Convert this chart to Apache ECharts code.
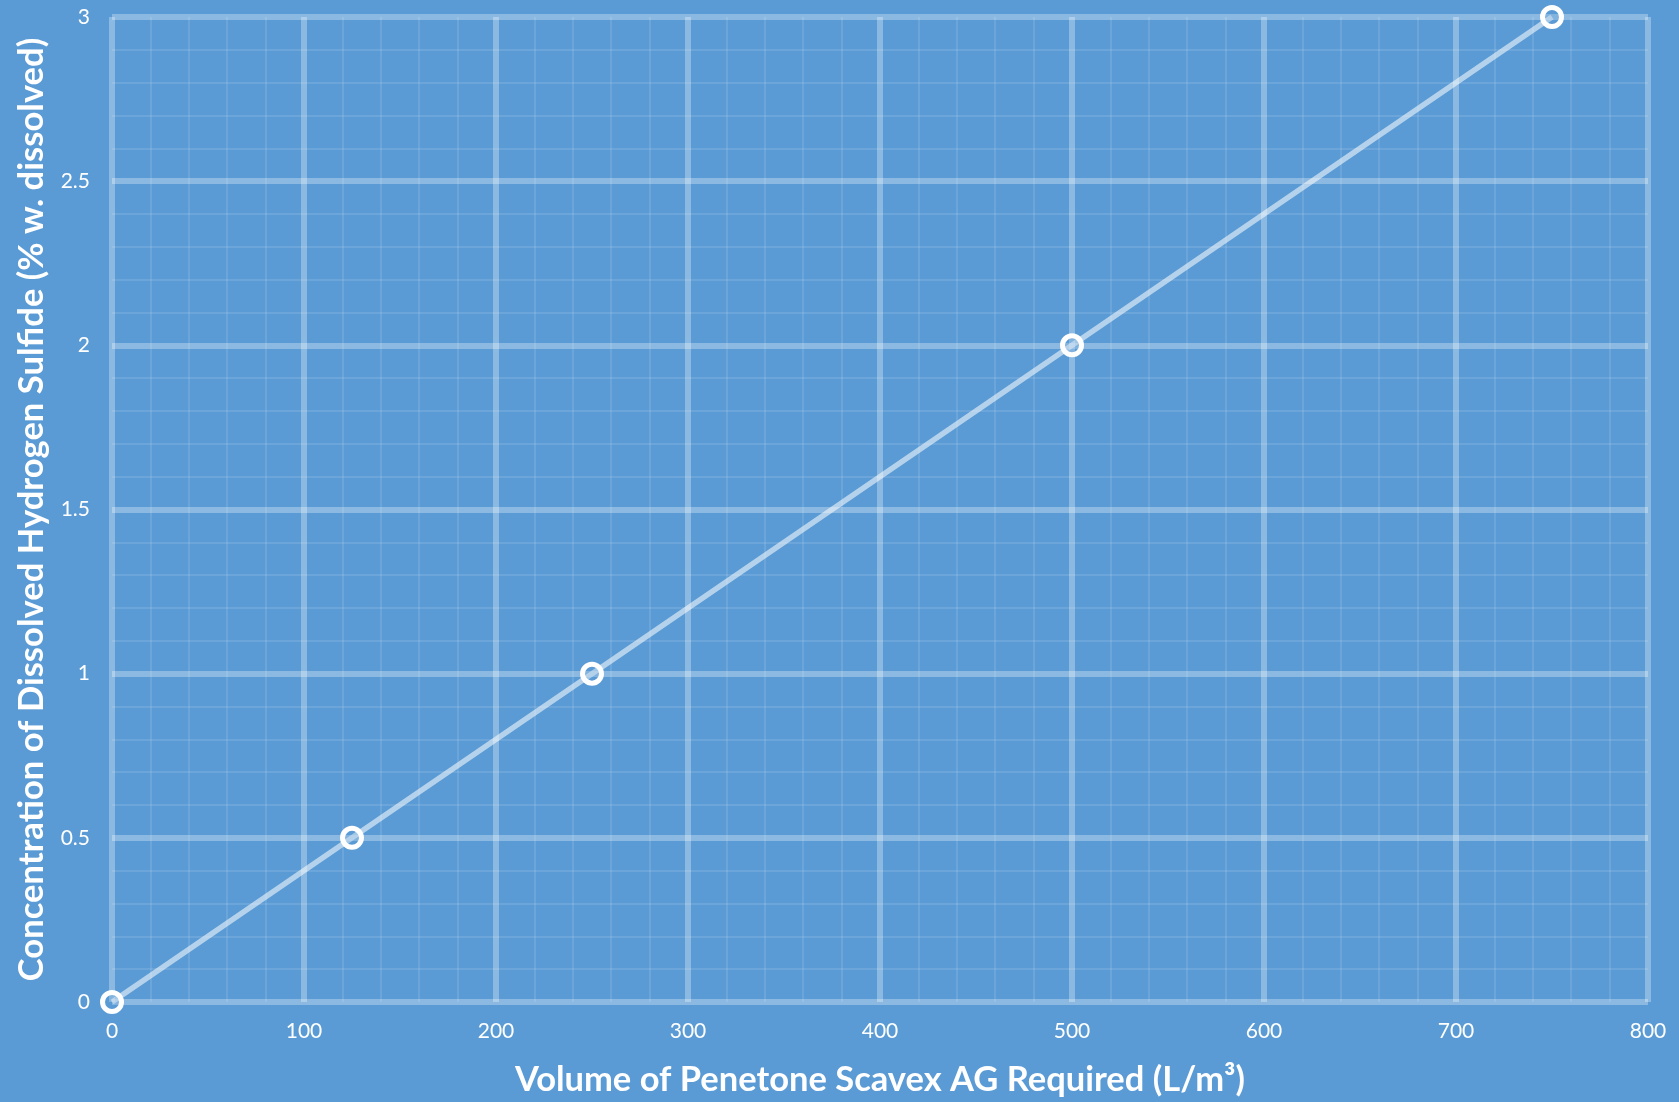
<!DOCTYPE html>
<html>
<head>
<meta charset="utf-8">
<script src="https://cdn.jsdelivr.net/npm/echarts@6/dist/echarts.min.js"></script>
<style>
html,body{margin:0;padding:0;background:#5B9BD5;}
#chart{width:1679px;height:1102px;}
</style>
</head>
<body>
<div id="chart"></div>
<script>
const volume = [0, 125, 250, 500, 750];
const concentration = [0, 0.5, 1, 2, 3];
const xTitle = 'Volume of Penetone Scavex AG Required (L/m³)';
const yTitle = 'Concentration of Dissolved Hydrogen Sulfide (% w. dissolved)';

const chart = echarts.init(document.getElementById('chart'));
const font = 'Lato, "Open Sans", sans-serif';
chart.setOption({
  backgroundColor: '#5B9BD5',
  animation: false,
  grid: {left: 112, right: 31, top: 17, bottom: 99},
  xAxis: {
    type: 'value', min: 0, max: 800, interval: 100,
    name: xTitle, nameLocation: 'middle', nameGap: 60,
    nameTextStyle: {color: '#fff', fontSize: 34.5, fontWeight: 'bold', fontFamily: font},
    axisLine: {show: false}, axisTick: {show: false},
    axisLabel: {color: '#fff', fontSize: 21, margin: 19, fontFamily: font},
    splitLine: {show: true, lineStyle: {color: 'rgba(255,255,255,0.3)', width: 6}},
    minorTick: {show: false, splitNumber: 5},
    minorSplitLine: {show: true, lineStyle: {color: 'rgba(255,255,255,0.14)', width: 1.5}}
  },
  yAxis: {
    type: 'value', min: 0, max: 3, interval: 0.5,
    name: yTitle, nameLocation: 'middle', nameGap: 63, nameRotate: 90,
    nameTextStyle: {color: '#fff', fontSize: 34.6, fontWeight: 'bold', fontFamily: font},
    axisLine: {show: false}, axisTick: {show: false},
    axisLabel: {color: '#fff', fontSize: 21, margin: 22, fontFamily: font},
    splitLine: {show: true, lineStyle: {color: 'rgba(255,255,255,0.3)', width: 6}},
    minorTick: {show: false, splitNumber: 5},
    minorSplitLine: {show: true, lineStyle: {color: 'rgba(255,255,255,0.14)', width: 1.5}}
  },
  series: [{
    type: 'line',
    data: volume.map((v, i) => [v, concentration[i]]),
    symbol: 'circle', symbolSize: 19,
    lineStyle: {color: 'rgba(255,255,255,0.55)', width: 5.5},
    itemStyle: {color: 'rgba(91,155,213,0.2)', borderColor: '#fff', borderWidth: 5},
    z: 5
  }]
});
</script>
</body>
</html>
